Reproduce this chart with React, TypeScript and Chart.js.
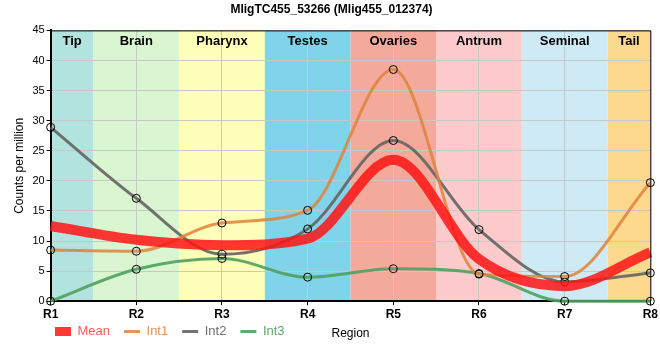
import React, { useEffect, useRef } from 'react';
import { Chart, registerables } from 'chart.js';
Chart.register(...registerables);

const categories = ['R1', 'R2', 'R3', 'R4', 'R5', 'R6', 'R7', 'R8'];
const meanValues = [12.5, 10.2, 9.3, 10.4, 23.5, 7.0, 2.5, 8.1];
const int1Values = [8.5, 8.3, 13.0, 15.1, 38.5, 4.5, 4.1, 19.7];
const int2Values = [28.9, 17.1, 7.8, 12.0, 26.7, 11.9, 3.2, 4.7];
const int3Values = [0, 5.3, 7.1, 4.0, 5.4, 4.6, 0, 0];
const regionNames = ['Tip', 'Brain', 'Pharynx', 'Testes', 'Ovaries', 'Antrum', 'Seminal', 'Tail'];
const regionColors = ['#b3e3de', '#d9f6d1', '#ffffb9', '#7fd4ea', '#f4aa9b', '#fdcbcb', '#ceebf5', '#fcd98c'];
const seriesNames = ['Mean', 'Int1', 'Int2', 'Int3'];
const seriesColors = ['rgba(255,20,20,0.85)', 'rgba(222,130,60,0.85)', 'rgba(100,100,100,0.9)', 'rgba(80,160,95,0.9)'];
const legendTextColors = ['#ff5a5a', '#e89050', '#707070', '#5aa86a'];
const yTicks = [0, 5, 10, 15, 20, 25, 30, 35, 40, 45];

const FONT = 'Arial, "Liberation Sans", sans-serif';

const bandsPlugin = {
  id: 'bands',
  afterLayout(chart: any) {
    const lg = chart.legend;
    if (lg) {
      lg.left += 29;
      lg.top -= 8;
      lg.bottom -= 8;
    }
  },
  beforeDraw(chart: any) {
    const { ctx, chartArea, scales } = chart;
    const x = scales.x;
    ctx.save();
    ctx.fillStyle = '#ffffff';
    ctx.fillRect(0, 0, chart.width, chart.height);
    regionNames.forEach((name, i) => {
      const c = x.getPixelForValue(i);
      const prev = i === 0 ? chartArea.left : (c + x.getPixelForValue(i - 1)) / 2;
      const next = i === regionNames.length - 1 ? chartArea.right : (c + x.getPixelForValue(i + 1)) / 2;
      ctx.fillStyle = regionColors[i];
      ctx.fillRect(prev, chartArea.top, next - prev, chartArea.bottom - chartArea.top);
    });
    ctx.restore();
  },
  afterDatasetsDraw(chart: any) {
    const { ctx, chartArea, scales } = chart;
    const x = scales.x;
    ctx.save();
    ctx.fillStyle = '#000';
    ctx.font = 'bold 13px ' + FONT;
    ctx.textAlign = 'center';
    ctx.textBaseline = 'middle';
    regionNames.forEach((name, i) => {
      const c = x.getPixelForValue(i);
      const prev = i === 0 ? chartArea.left : (c + x.getPixelForValue(i - 1)) / 2;
      const next = i === regionNames.length - 1 ? chartArea.right : (c + x.getPixelForValue(i + 1)) / 2;
      ctx.fillText(name, (prev + next) / 2, chartArea.top + 11);
    });
    ctx.strokeStyle = '#000';
    ctx.lineWidth = 1;
    ctx.beginPath();
    ctx.moveTo(chartArea.left, chartArea.top + 0.5);
    ctx.lineTo(chartArea.right + 0.5, chartArea.top + 0.5);
    ctx.lineTo(chartArea.right + 0.5, chartArea.bottom);
    ctx.stroke();
    ctx.restore();
  },
};

export default function App() {
  const ref = useRef<HTMLCanvasElement>(null);
  useEffect(() => {
    document.body.style.margin = '0';
    const values = [meanValues, int1Values, int2Values, int3Values];
    const widths = [10, 3, 3, 3];
    const chart = new Chart(ref.current as HTMLCanvasElement, {
      type: 'line',
      data: {
        labels: categories,
        datasets: seriesNames.map((name, i) => ({
          label: name,
          data: values[i],
          borderColor: seriesColors[i],
          backgroundColor: seriesColors[i],
          borderWidth: widths[i],
          cubicInterpolationMode: 'monotone',
          pointRadius: i === 0 ? 0 : 4,
          pointBorderColor: '#000',
          pointBorderWidth: 1,
          pointBackgroundColor: 'rgba(0,0,0,0)',
          pointHoverRadius: 4,
          fill: false,
          clip: false,
        })),
      },
      plugins: [bandsPlugin],
      options: {
        animation: false,
        responsive: false,
        maintainAspectRatio: false,
        layout: { padding: { left: 12, right: 9, top: 0, bottom: 4 } },
        plugins: {
          title: {
            display: true,
            text: 'MligTC455_53266 (Mlig455_012374)',
            color: '#000',
            font: { family: FONT, size: 12, weight: 'bold' },
            padding: { top: 2, bottom: 14 },
          },
          legend: {
            position: 'bottom',
            align: 'start',
            labels: {
              usePointStyle: true,
              pointStyle: 'line',
              pointStyleWidth: 16,
              boxHeight: 8,
              font: { family: FONT, size: 13 },
              padding: 14,
              generateLabels: (c: any) => {
                const items = (Chart as any).defaults.plugins.legend.labels.generateLabels(c);
                items.forEach((it: any, i: number) => {
                  it.fontColor = legendTextColors[i];
                  it.pointStyle = 'line';
                  it.strokeStyle = seriesColors[i];
                  it.fillStyle = seriesColors[i];
                  it.lineWidth = i === 0 ? 9 : 3;
                });
                return items;
              },
            },
          },
          tooltip: { enabled: false },
        },
        scales: {
          x: {
            type: 'category',
            offset: false,
            grid: { color: '#c8c8c8', tickLength: 4, tickColor: '#000' },
            border: { color: '#000', width: 2 },
            ticks: { color: '#000', font: { family: FONT, size: 12, weight: 'bold' }, padding: 2, maxRotation: 0 },
            title: {
              display: true,
              text: 'Region',
              color: '#000',
              font: { family: FONT, size: 12 },
              padding: { top: 3, bottom: -22 },
            },
          },
          y: {
            min: 0,
            max: 45,
            afterBuildTicks: (s: any) => { s.ticks = yTicks.map((v) => ({ value: v })); },
            grid: { color: '#c8c8c8', tickLength: 4, tickColor: '#000' },
            border: { color: '#000', width: 2 },
            ticks: { color: '#000', font: { family: FONT, size: 11 }, padding: 2 },
            title: {
              display: true,
              text: 'Counts per million',
              color: '#000',
              font: { family: FONT, size: 12 },
              padding: { top: 0, bottom: 4 },
            },
          },
        },
      },
    } as any);
    return () => chart.destroy();
  }, []);
  return (
    <div style={{ width: 660, height: 360 }}>
      <canvas ref={ref} width={660} height={360} style={{ display: 'block' }} />
    </div>
  );
}
